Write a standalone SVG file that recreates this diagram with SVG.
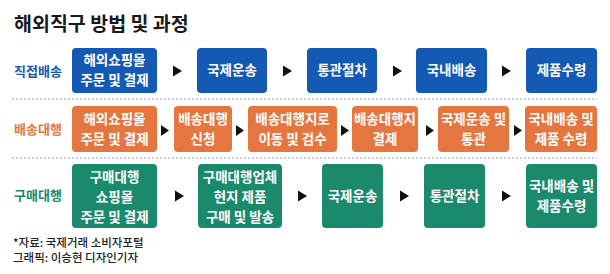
<svg xmlns="http://www.w3.org/2000/svg" width="610" height="274" viewBox="0 0 610 274">
<defs>
<style>
text{font-family:"Noto Sans CJK KR","Noto Sans",sans-serif;}
.title{font-size:19.5px;font-weight:700;fill:#1a1a1a;}
.lbl{font-size:13px;font-weight:700;text-anchor:start;}
.bt{font-size:13.5px;font-weight:700;fill:#ffffff;text-anchor:middle;}
.blue{fill:#1459b3;}
.orange{fill:#e5763f;}
.green{fill:#1b8a6c;}
.sep{stroke:#a0a0a0;stroke-width:1;stroke-dasharray:2 2;fill:none;}
.arr{fill:#111111;}
.foot{font-size:11.5px;font-weight:500;fill:#222222;}
</style>
</defs>
<rect width="610" height="274" fill="#ffffff"/>
<text class="title" x="14" y="31">해외직구 방법 및 과정</text>

<g id="separators">
<line class="sep" x1="12" y1="99" x2="597" y2="99"/>
<line class="sep" x1="12" y1="158" x2="597" y2="158"/>
</g>

<g id="row1-label"><text class="lbl blue" x="14" y="76">직접배송</text></g>
<g id="r1n1"><rect class="blue" x="72" y="48" width="85" height="45" rx="4"/><text class="bt" x="114.5" y="65">해외쇼핑몰</text><text class="bt" x="114.5" y="85">주문 및 결제</text></g>
<g id="r1n2"><rect class="blue" x="197" y="48" width="70" height="45" rx="4"/><text class="bt" x="232" y="75">국제운송</text></g>
<g id="r1n3"><rect class="blue" x="307" y="48" width="70" height="45" rx="4"/><text class="bt" x="342" y="75">통관절차</text></g>
<g id="r1n4"><rect class="blue" x="416" y="48" width="71" height="45" rx="4"/><text class="bt" x="451.5" y="75">국내배송</text></g>
<g id="r1n5"><rect class="blue" x="526" y="48" width="71" height="45" rx="4"/><text class="bt" x="561.5" y="75">제품수령</text></g>

<g id="row2-label"><text class="lbl orange" x="14" y="134">배송대행</text></g>
<g id="r2n1"><rect class="orange" x="72" y="106" width="85" height="46" rx="4"/><text class="bt" x="114.5" y="124">해외쇼핑몰</text><text class="bt" x="114.5" y="144">주문 및 결제</text></g>
<g id="r2n2"><rect class="orange" x="174" y="106" width="58" height="46" rx="4"/><text class="bt" x="203" y="124">배송대행</text><text class="bt" x="203" y="144">신청</text></g>
<g id="r2n3"><rect class="orange" x="248" y="106" width="89" height="46" rx="4"/><text class="bt" x="292.5" y="124">배송대행지로</text><text class="bt" x="292.5" y="144">이동 및 검수</text></g>
<g id="r2n4"><rect class="orange" x="352" y="106" width="66" height="46" rx="4"/><text class="bt" x="385" y="124">배송대행지</text><text class="bt" x="385" y="144">결제</text></g>
<g id="r2n5"><rect class="orange" x="438" y="106" width="71" height="46" rx="4"/><text class="bt" x="473.5" y="124">국제운송 및</text><text class="bt" x="473.5" y="144">통관</text></g>
<g id="r2n6"><rect class="orange" x="525" y="106" width="72" height="46" rx="4"/><text class="bt" x="561" y="124">국내배송 및</text><text class="bt" x="561" y="144">제품 수령</text></g>

<g id="row3-label"><text class="lbl green" x="14" y="200">구매대행</text></g>
<g id="r3n1"><rect class="green" x="72" y="164" width="85" height="64" rx="4"/><text class="bt" x="114.5" y="182">구매대행</text><text class="bt" x="114.5" y="202">쇼핑몰</text><text class="bt" x="114.5" y="222">주문 및 결제</text></g>
<g id="r3n2"><rect class="green" x="198" y="164" width="84" height="64" rx="4"/><text class="bt" x="240" y="182">구매대행업체</text><text class="bt" x="240" y="202">현지 제품</text><text class="bt" x="240" y="222">구매 및 발송</text></g>
<g id="r3n3"><rect class="green" x="322" y="164" width="61" height="64" rx="4"/><text class="bt" x="352.5" y="201">국제운송</text></g>
<g id="r3n4"><rect class="green" x="424" y="164" width="61" height="64" rx="4"/><text class="bt" x="454.5" y="201">통관절차</text></g>
<g id="r3n5"><rect class="green" x="526" y="164" width="71" height="64" rx="4"/><text class="bt" x="561.5" y="191">국내배송 및</text><text class="bt" x="561.5" y="211">제품수령</text></g>

<g id="connectors">
<polygon class="arr" points="173,65.5 182,71 173,76.5"/>
<polygon class="arr" points="283,65.5 292,71 283,76.5"/>
<polygon class="arr" points="393,65.5 402,71 393,76.5"/>
<polygon class="arr" points="502,65.5 511,71 502,76.5"/>

<polygon class="arr" points="161,125 169,130.5 161,136"/>
<polygon class="arr" points="236,125 244,130.5 236,136"/>
<polygon class="arr" points="341,125 349,130.5 341,136"/>
<polygon class="arr" points="426,125 434,130.5 426,136"/>
<polygon class="arr" points="514,125 522,130.5 514,136"/>

<polygon class="arr" points="175,190.5 184,196 175,201.5"/>
<polygon class="arr" points="298,190.5 307,196 298,201.5"/>
<polygon class="arr" points="400,190.5 409,196 400,201.5"/>
<polygon class="arr" points="502,190.5 511,196 502,201.5"/>
</g>

<g id="footer">
<text class="foot" x="13" y="247">*자료: 국제거래 소비자포털</text>
<text class="foot" x="13" y="262">그래픽: 이승현 디자인기자</text>
</g>
</svg>
